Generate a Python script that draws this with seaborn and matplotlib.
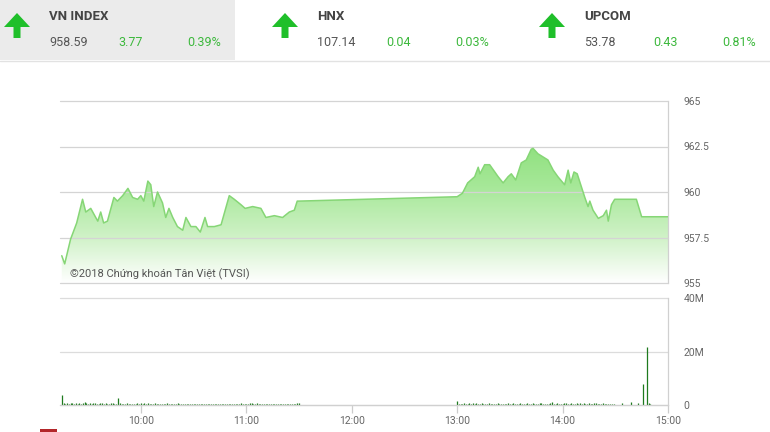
import pandas as pd
import numpy as np
import matplotlib
matplotlib.use("Agg")
import matplotlib.pyplot as plt
import matplotlib.dates as mdates
from matplotlib.colors import LinearSegmentedColormap
from matplotlib.patches import Rectangle, Polygon
import seaborn as sns

# Bảng chỉ số (header)
idx_names = ["VN INDEX", "HNX", "UPCOM"]
idx_values = ["958.59", "107.14", "53.78"]
idx_changes = ["3.77", "0.04", "0.43"]
idx_pcts = ["0.39%", "0.03%", "0.81%"]

# Diễn biến VN-Index trong phiên
price_times = [
    "09:15:00", "09:16:40", "09:20:00", "09:23:30", "09:26:50", "09:28:40", "09:31:30",
    "09:34:20", "09:35:30", "09:37:10", "09:38:50", "09:41:00", "09:44:40", "09:46:40",
    "09:49:40", "09:52:40", "09:55:20", "09:58:10", "10:00:00", "10:01:40", "10:04:00",
    "10:05:40", "10:07:20", "10:09:30", "10:12:20", "10:14:10", "10:16:00", "10:18:10",
    "10:20:50", "10:23:50", "10:25:40", "10:28:30", "10:31:20", "10:33:50", "10:36:30",
    "10:38:00", "10:41:50", "10:45:40", "10:50:20", "10:53:10", "10:57:00", "10:59:20",
    "11:03:40", "11:08:20", "11:11:10", "11:16:00", "11:20:40", "11:24:30", "11:27:20",
    "11:29:00", "11:30:00", "13:00:00", "13:03:00", "13:06:00", "13:10:00", "13:12:00",
    "13:13:00", "13:15:40", "13:18:30", "13:23:20", "13:26:10", "13:29:00", "13:30:50",
    "13:33:20", "13:36:30", "13:39:20", "13:42:10", "13:43:10", "13:46:00", "13:51:40",
    "13:54:40", "13:57:20", "14:01:10", "14:03:10", "14:04:40", "14:06:30", "14:08:20",
    "14:10:40", "14:12:40", "14:14:30", "14:15:30", "14:17:20", "14:20:20", "14:23:10",
    "14:25:00", "14:26:00", "14:27:50", "14:29:40", "14:42:00", "14:45:00", "15:00:00",
]
price_values = [
    956.5, 956.05, 957.4, 958.3, 959.6, 958.9, 959.1,
    958.6, 958.4, 958.9, 958.3, 958.4, 959.7, 959.5,
    959.8, 960.2, 959.7, 959.6, 959.8, 959.5, 960.6,
    960.4, 959.2, 960.0, 959.4, 958.6, 959.1, 958.6,
    958.1, 957.9, 958.6, 958.1, 958.1, 957.8, 958.6,
    958.1, 958.1, 958.2, 959.8, 959.6, 959.3, 959.1,
    959.2, 959.1, 958.6, 958.7, 958.6, 958.9, 959.0,
    959.5, 959.5, 959.74, 959.93, 960.5, 960.84, 961.36,
    961.0, 961.5, 961.5, 960.84, 960.5, 960.84, 961.0,
    960.66, 961.6, 961.76, 962.35, 962.4, 962.1, 961.76,
    961.2, 960.84, 960.4, 961.2, 960.5, 961.1, 961.0,
    960.3, 959.7, 959.2, 959.5, 959.0, 958.55, 958.7,
    959.0, 958.4, 959.3, 959.6, 959.6, 958.64, 958.64,
]

# Khối lượng theo phút (triệu cổ phiếu)
vol_morning_start = "09:15"
vol_morning = [
    3.8, 0.6, 0.5, 0.7, 0.4, 0.6, 0.8, 0.5, 0.6, 0.4, 0.7, 0.5, 0.9, 1.0, 0.6,
    0.5, 0.7, 0.4, 0.6, 0.8, 0.5, 0.4, 0.6, 0.7, 0.5, 0.6, 0.4, 0.5, 0.7, 0.6,
    0.4, 0.5, 2.5, 0.6, 0.4, 0.5, 0.3, 0.6, 0.5, 0.4, 0.5, 0.3, 0.4, 0.6, 0.5,
    0.7, 0.4, 0.8, 0.5, 0.6, 0.4, 0.5, 0.3, 0.6, 0.4, 0.5, 0.4, 0.3, 0.5, 0.4,
    0.6, 0.3, 0.4, 0.5, 0.3, 0.4, 0.6, 0.3, 0.4, 0.5, 0.3, 0.4, 0.3, 0.5, 0.4,
    0.3, 0.5, 0.4, 0.3, 0.4, 0.5, 0.3, 0.4, 0.3, 0.5, 0.4, 0.3, 0.4, 0.3, 0.5,
    0.4, 0.3, 0.4, 0.5, 0.3, 0.4, 0.3, 0.4, 0.5, 0.4, 0.3, 0.4, 0.6, 0.4, 0.3,
    0.5, 0.4, 0.7, 0.6, 0.4, 0.5, 0.8, 0.4, 0.3, 0.5, 0.4, 0.3, 0.4, 0.3, 0.5,
    0.4, 0.3, 0.4, 0.3, 0.5, 0.4, 0.3, 0.4, 0.3, 0.4, 0.5, 0.3, 0.4, 0.3, 0.6,
    0.9,
]
vol_afternoon_start = "13:00"
vol_afternoon = [
    1.5, 0.4, 0.5, 0.3, 0.6, 0.4, 0.5, 0.7, 0.4, 0.6, 0.5, 0.8, 0.4, 0.5, 0.6,
    0.4, 0.5, 0.3, 0.6, 0.4, 0.5, 0.3, 0.4, 0.6, 0.5, 0.4, 0.3, 0.5, 0.4, 0.6,
    0.5, 0.4, 0.6, 0.3, 0.5, 0.4, 0.6, 0.5, 0.4, 0.3, 0.7, 0.5, 0.4, 0.6, 0.3,
    0.5, 0.4, 0.9, 0.6, 0.4, 0.5, 0.3, 0.4, 0.6, 1.0, 0.5, 0.4, 0.6, 0.3, 0.5,
    0.4, 0.6, 0.8, 0.5, 0.4, 0.6, 0.3, 0.5, 0.7, 0.4, 0.6, 0.5, 0.8, 0.4, 0.5,
    0.6, 0.4, 0.5, 0.7, 0.6, 0.4, 0.5, 0.3, 0.6, 0.4, 0.5, 0.4, 0.3, 0.5, 0.4,
]
vol_late_times = ["14:34", "14:39", "14:43", "14:46", "14:48", "14:49", "14:50"]
vol_late = [0.8, 1.0, 0.7, 7.8, 21.6, 0.6, 0.4]

price_ticks = [955, 957.5, 960, 962.5, 965]
price_labels = ["955", "957.5", "960", "962.5", "965"]
vol_ticks = [0, 20, 40]
vol_labels = ["0", "20M", "40M"]
hour_ticks = ["10:00", "11:00", "12:00", "13:00", "14:00", "15:00"]

DAY = "2018-06-01 "

# Chuẩn bị dữ liệu
df_price = pd.DataFrame({
    "t": pd.to_datetime([DAY + s for s in price_times]),
    "v": price_values,
})
t_morning = pd.date_range(DAY + vol_morning_start, periods=len(vol_morning), freq="min")
t_afternoon = pd.date_range(DAY + vol_afternoon_start, periods=len(vol_afternoon), freq="min")
t_late = pd.to_datetime([DAY + s for s in vol_late_times])
df_vol = pd.DataFrame({
    "t": list(t_morning) + list(t_afternoon) + list(t_late),
    "v": vol_morning + vol_afternoon + vol_late,
})

sns.set_theme(style="white")
plt.rcParams["font.family"] = ["Roboto", "DejaVu Sans"]

W, H = 770, 432
fig = plt.figure(figsize=(W / 100, H / 100), dpi=100)

# Nền + header (toạ độ pixel)
bg = fig.add_axes([0, 0, 1, 1], zorder=-1)
bg.set_xlim(0, W)
bg.set_ylim(H, 0)
bg.axis("off")
bg.add_patch(Rectangle((0, 0), 235, 60, color="#ebebeb", lw=0))
bg.plot([0, W], [60.5, 60.5], color="#e2e2e2", lw=1)
bg.add_patch(Rectangle((40, 429), 17, 3, color="#b3262a", lw=0))

green = "#3cb83c"
for i, cx in enumerate([17, 285, 552]):
    arrow = [(cx, 13), (cx + 13, 27), (cx + 3.5, 27), (cx + 3.5, 38),
             (cx - 3.5, 38), (cx - 3.5, 27), (cx - 13, 27)]
    bg.add_patch(Polygon(arrow, closed=True, color="#1fbf2a", lw=0))
    x0 = cx + 32
    bg.text(x0, 17, idx_names[i], fontsize=9.5, fontweight="bold",
            color="#444444", va="center", ha="left")
    bg.text(x0, 43, idx_values[i], fontsize=9, color="#555555", va="center", ha="left")
    bg.text(x0 + 69, 43, idx_changes[i], fontsize=9, color=green, va="center", ha="left")
    bg.text(x0 + 138, 43, idx_pcts[i], fontsize=9, color=green, va="center", ha="left")

# Biểu đồ giá
L, R = 60 / W, 668 / W
ax = fig.add_axes([L, (H - 283) / H, R - L, 182 / H])
ax.set_facecolor("none")
ax.set_axisbelow(False)

poly = ax.fill_between(df_price["t"], df_price["v"], 955, color="none", lw=0)
x_min = mdates.date2num(pd.Timestamp(DAY + "09:14"))
x_max = mdates.date2num(pd.Timestamp(DAY + "15:00"))
cmap = LinearSegmentedColormap.from_list(
    "fade", [(0, "#ffffff"), (0.35, "#cdf1c4"), (0.7, "#a6e898"), (1, "#8fe07e")])
grad = np.linspace(0, 1, 256).reshape(-1, 1)
im = ax.imshow(grad, extent=[x_min, x_max, 955, 962.6], origin="lower",
               aspect="auto", cmap=cmap, zorder=1)
im.set_clip_path(poly.get_paths()[0], transform=ax.transData)

sns.lineplot(data=df_price, x="t", y="v", ax=ax, color="#86d676", lw=1.1, zorder=3)

ax.set_xlim(x_min, x_max)
ax.set_ylim(955, 965)
ax.set_yticks(price_ticks)
ax.set_yticklabels(price_labels)
ax.yaxis.tick_right()
ax.tick_params(axis="y", length=0, pad=11, labelsize=7.5, labelcolor="#666666")
ax.set_xticks([])
ax.set_xlabel("")
ax.set_ylabel("")
ax.grid(axis="y", color="#d4d4d4", lw=0.9)
ax.grid(axis="x", visible=False)
for gl in ax.get_ygridlines():
    gl.set_clip_on(False)
for s in ["top", "left", "bottom"]:
    ax.spines[s].set_visible(False)
ax.spines["right"].set_color("#d0d0d0")
ax.spines["right"].set_linewidth(0.9)
ax.text(0.017, 0.05, "©2018 Chứng khoán Tân Việt (TVSI)", transform=ax.transAxes,
        fontsize=8, color="#555555", ha="left", va="center", zorder=4)

# Biểu đồ khối lượng
ax2 = fig.add_axes([L, (H - 405) / H, R - L, 107 / H])
ax2.set_facecolor("none")
ax2.vlines(df_vol["t"], 0, df_vol["v"], color="#1e7a1e", lw=0.9)
ax2.set_xlim(x_min, x_max)
ax2.set_ylim(0, 40)
ax2.set_yticks(vol_ticks)
ax2.set_yticklabels(vol_labels)
ax2.yaxis.tick_right()
ax2.tick_params(axis="y", length=0, pad=11, labelsize=7.5, labelcolor="#666666")
ax2.set_xticks(pd.to_datetime([DAY + s for s in hour_ticks]))
ax2.xaxis.set_major_formatter(mdates.DateFormatter("%H:%M"))
ax2.tick_params(axis="x", bottom=True, length=6, width=0.9, color="#cccccc",
                pad=2, labelsize=7.5, labelcolor="#666666")
ax2.grid(axis="y", color="#dcdcdc", lw=0.9)
ax2.grid(axis="x", visible=False)
for gl in ax2.get_ygridlines():
    gl.set_clip_on(False)
for s in ["top", "left"]:
    ax2.spines[s].set_visible(False)
for s in ["right", "bottom"]:
    ax2.spines[s].set_color("#d0d0d0")
    ax2.spines[s].set_linewidth(0.9)

fig.savefig("out.png", dpi=100)
